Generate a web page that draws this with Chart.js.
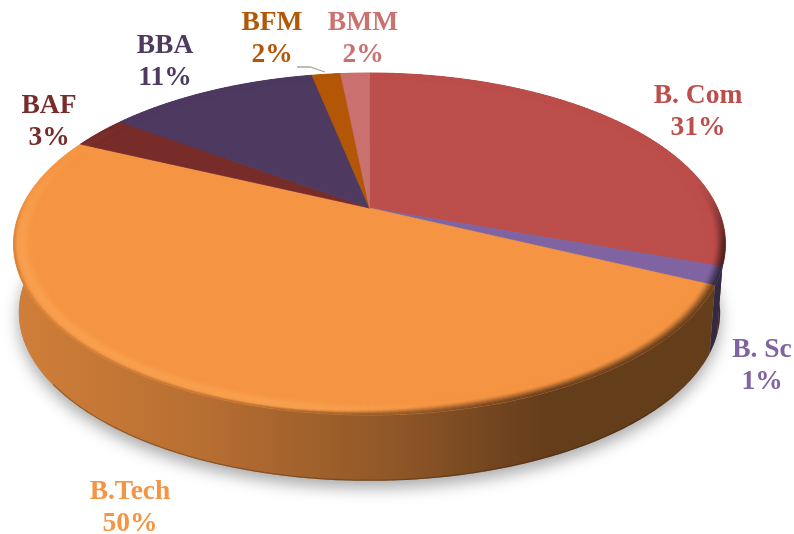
<!DOCTYPE html>
<html><head><meta charset="utf-8">
<style>html,body{margin:0;padding:0;background:#fff}#w{width:794px;height:534px}</style>
<script src="https://cdn.jsdelivr.net/npm/chart.js@4"></script></head>
<body><div id="w"><canvas id="c" width="794" height="534"></canvas></div>
<script>
const categories = ['B. Com','B. Sc','B.Tech','BAF','BBA','BFM','BMM'];
const values = [30.4, 1.7, 49.9, 3.1, 11.7, 1.6, 1.6];
const percentLabels = ['31%','1%','50%','3%','11%','2%','2%'];
const colors = ['#BC4E4B','#8064A2','#F59443','#772C2A','#4E3A60','#B35707','#CB7170'];
const labelCentres = [[698,96],[762,350],[130,492],[49,106],[165,46],[272,23],[363,23]];

// Perspective projection of the pie's disc
const P = {cx:369.5, cy:208, A:348, B:163.4, p:0.2105, s:0.985, d:69};
function proj(theta, r, lower){
  const u=r*Math.sin(theta), v=-r*Math.cos(theta), w=1-P.p*v;
  let x=P.A*u/w, y=P.B*v/w;
  if(lower){x*=P.s;y=y*P.s+P.d;}
  return [P.cx+x,P.cy+y];
}
const hex=h=>[1,3,5].map(i=>parseInt(h.substr(i,2),16));
const mix=(a,b,t)=>a.map((c,i)=>c+(b[i]-c)*t);
const css=c=>`rgb(${c.map(n=>Math.round(n)).join(',')})`;
const smooth=(a,b,x)=>{const t=Math.min(1,Math.max(0,(x-a)/(b-a)));return t*t*(3-2*t);};
const shadeStops=[[0,.87],[20,.85],[200,.75],[400,.58],[500,.46],[550,.41],[794,.41]];
function shade(x){
  for(let i=1;i<shadeStops.length;i++){
    const [x0,f0]=shadeStops[i-1],[x1,f1]=shadeStops[i];
    if(x<=x1) return f0+(f1-f0)*(x-x0)/(x1-x0);
  }
  return .41;
}
function pathPts(ctx,pts){ctx.beginPath();pts.forEach((q,i)=>i?ctx.lineTo(q[0],q[1]):ctx.moveTo(q[0],q[1]));ctx.closePath();}
function rimPts(a0,a1,r,lower){
  const n=Math.max(2,Math.ceil((a1-a0)/0.01)),o=[];
  for(let i=0;i<=n;i++)o.push(proj(a0+(a1-a0)*i/n,r,lower));
  return o;
}
const pie3d={
  id:'pie3d',
  beforeDatasetsDraw(chart){
    const ctx=chart.ctx, arcs=chart.getDatasetMeta(0).data;
    const ang=arcs.map(a=>[a.startAngle+Math.PI/2,a.endAngle+Math.PI/2]);
    const T=Math.PI*2;
    ctx.save();
    // soft ground shadow
    ctx.save();
    ctx.shadowColor='rgba(0,0,0,.34)';ctx.shadowBlur=16;ctx.shadowOffsetY=7;ctx.fillStyle='#999';
    pathPts(ctx,rimPts(0,T,1,true));ctx.fill();
    ctx.restore();
    // side walls, back to front
    [6,5,4,3,0,1,2].forEach(i=>{
      const [a0,a1]=ang[i], base=hex(colors[i]);
      const g=ctx.createLinearGradient(0,0,794,0);
      shadeStops.forEach(([x,f])=>g.addColorStop(x/794,css(base.map(c=>c*f))));
      const pts=rimPts(a0,a1,1,false).concat(rimPts(a0,a1,1,true).reverse());
      pathPts(ctx,pts);ctx.fillStyle=g;ctx.fill();
    });
    // dark lower edge of the wall (front only)
    ctx.save();
    pathPts(ctx,rimPts(0,T,1,true));ctx.clip();
    ctx.strokeStyle='rgba(50,25,5,.3)';ctx.lineWidth=2.5;
    ctx.beginPath();rimPts(Math.PI*.72,Math.PI*1.3,1,true).forEach((q,i)=>i?ctx.lineTo(q[0],q[1]):ctx.moveTo(q[0],q[1]));ctx.stroke();
    ctx.restore();
    // top faces
    ctx.lineJoin='round';
    arcs.forEach((a,i)=>{
      const pts=[proj(0,0,false)].concat(rimPts(ang[i][0],ang[i][1],1,false));
      pathPts(ctx,pts);ctx.fillStyle=colors[i];ctx.fill();
      ctx.strokeStyle=colors[i];ctx.lineWidth=.6;ctx.stroke();
    });
    // bevel band around the rim
    const rings=14,rIn=.945;
    arcs.forEach((a,i)=>{
      const base=hex(colors[i]), light=mix(base,[255,190,110],.3);
      const [a0,a1]=ang[i];const n=Math.max(2,Math.ceil((a1-a0)/0.018));
      for(let k=0;k<rings;k++){
        const t=(k+.5)/rings,r0=rIn+(1-rIn)*k/rings,r1=rIn+(1-rIn)*(k+1)/rings;
        for(let j=0;j<n;j++){
          const b0=a0+(a1-a0)*j/n,b1=a0+(a1-a0)*(j+1)/n,m=(b0+b1)/2;
          const q=proj(m,1,false),v=-Math.cos(m),x=q[0];
          const L=(1-smooth(280,500,x))*smooth(-.7,.35,v);
          const D=smooth(-.2,.3,v);
          const bump=Math.exp(-Math.pow((t-.6)/.32,2));
          const start=.82-.4*smooth(250,480,x);
          let col=mix(base,light,L*bump);
          col=mix(col,base.map(c=>c*shade(x)),D*smooth(start,1.02,t));
          const c=css(col);
          pathPts(ctx,[proj(b0,r0),proj(b1,r0),proj(b1,r1),proj(b0,r1)]);
          ctx.fillStyle=c;ctx.strokeStyle=c;ctx.lineWidth=.5;ctx.fill();ctx.stroke();
        }
      }
    });
    ctx.restore();
    return false;
  },
  afterDraw(chart){
    const ctx=chart.ctx;
    ctx.save();
    // leader line for BFM
    ctx.strokeStyle='#A6A6A6';ctx.lineWidth=1.3;
    ctx.beginPath();ctx.moveTo(297,67);ctx.lineTo(310,67);ctx.lineTo(325,72);ctx.stroke();
    ctx.font='bold 27.5px "Liberation Serif"';ctx.textAlign='center';ctx.textBaseline='middle';
    categories.forEach((c,i)=>{
      const [x,y]=labelCentres[i];
      ctx.fillStyle=colors[i];
      ctx.fillText(c,x,y);
      ctx.fillText(percentLabels[i],x,y+32);
    });
    ctx.restore();
  }
};
new Chart(document.getElementById('c'),{
  type:'pie',
  data:{labels:categories,datasets:[{data:values,backgroundColor:colors,borderWidth:0}]},
  options:{responsive:false,animation:false,plugins:{legend:{display:false},tooltip:{enabled:false}}},
  plugins:[pie3d]
});
</script></body></html>
